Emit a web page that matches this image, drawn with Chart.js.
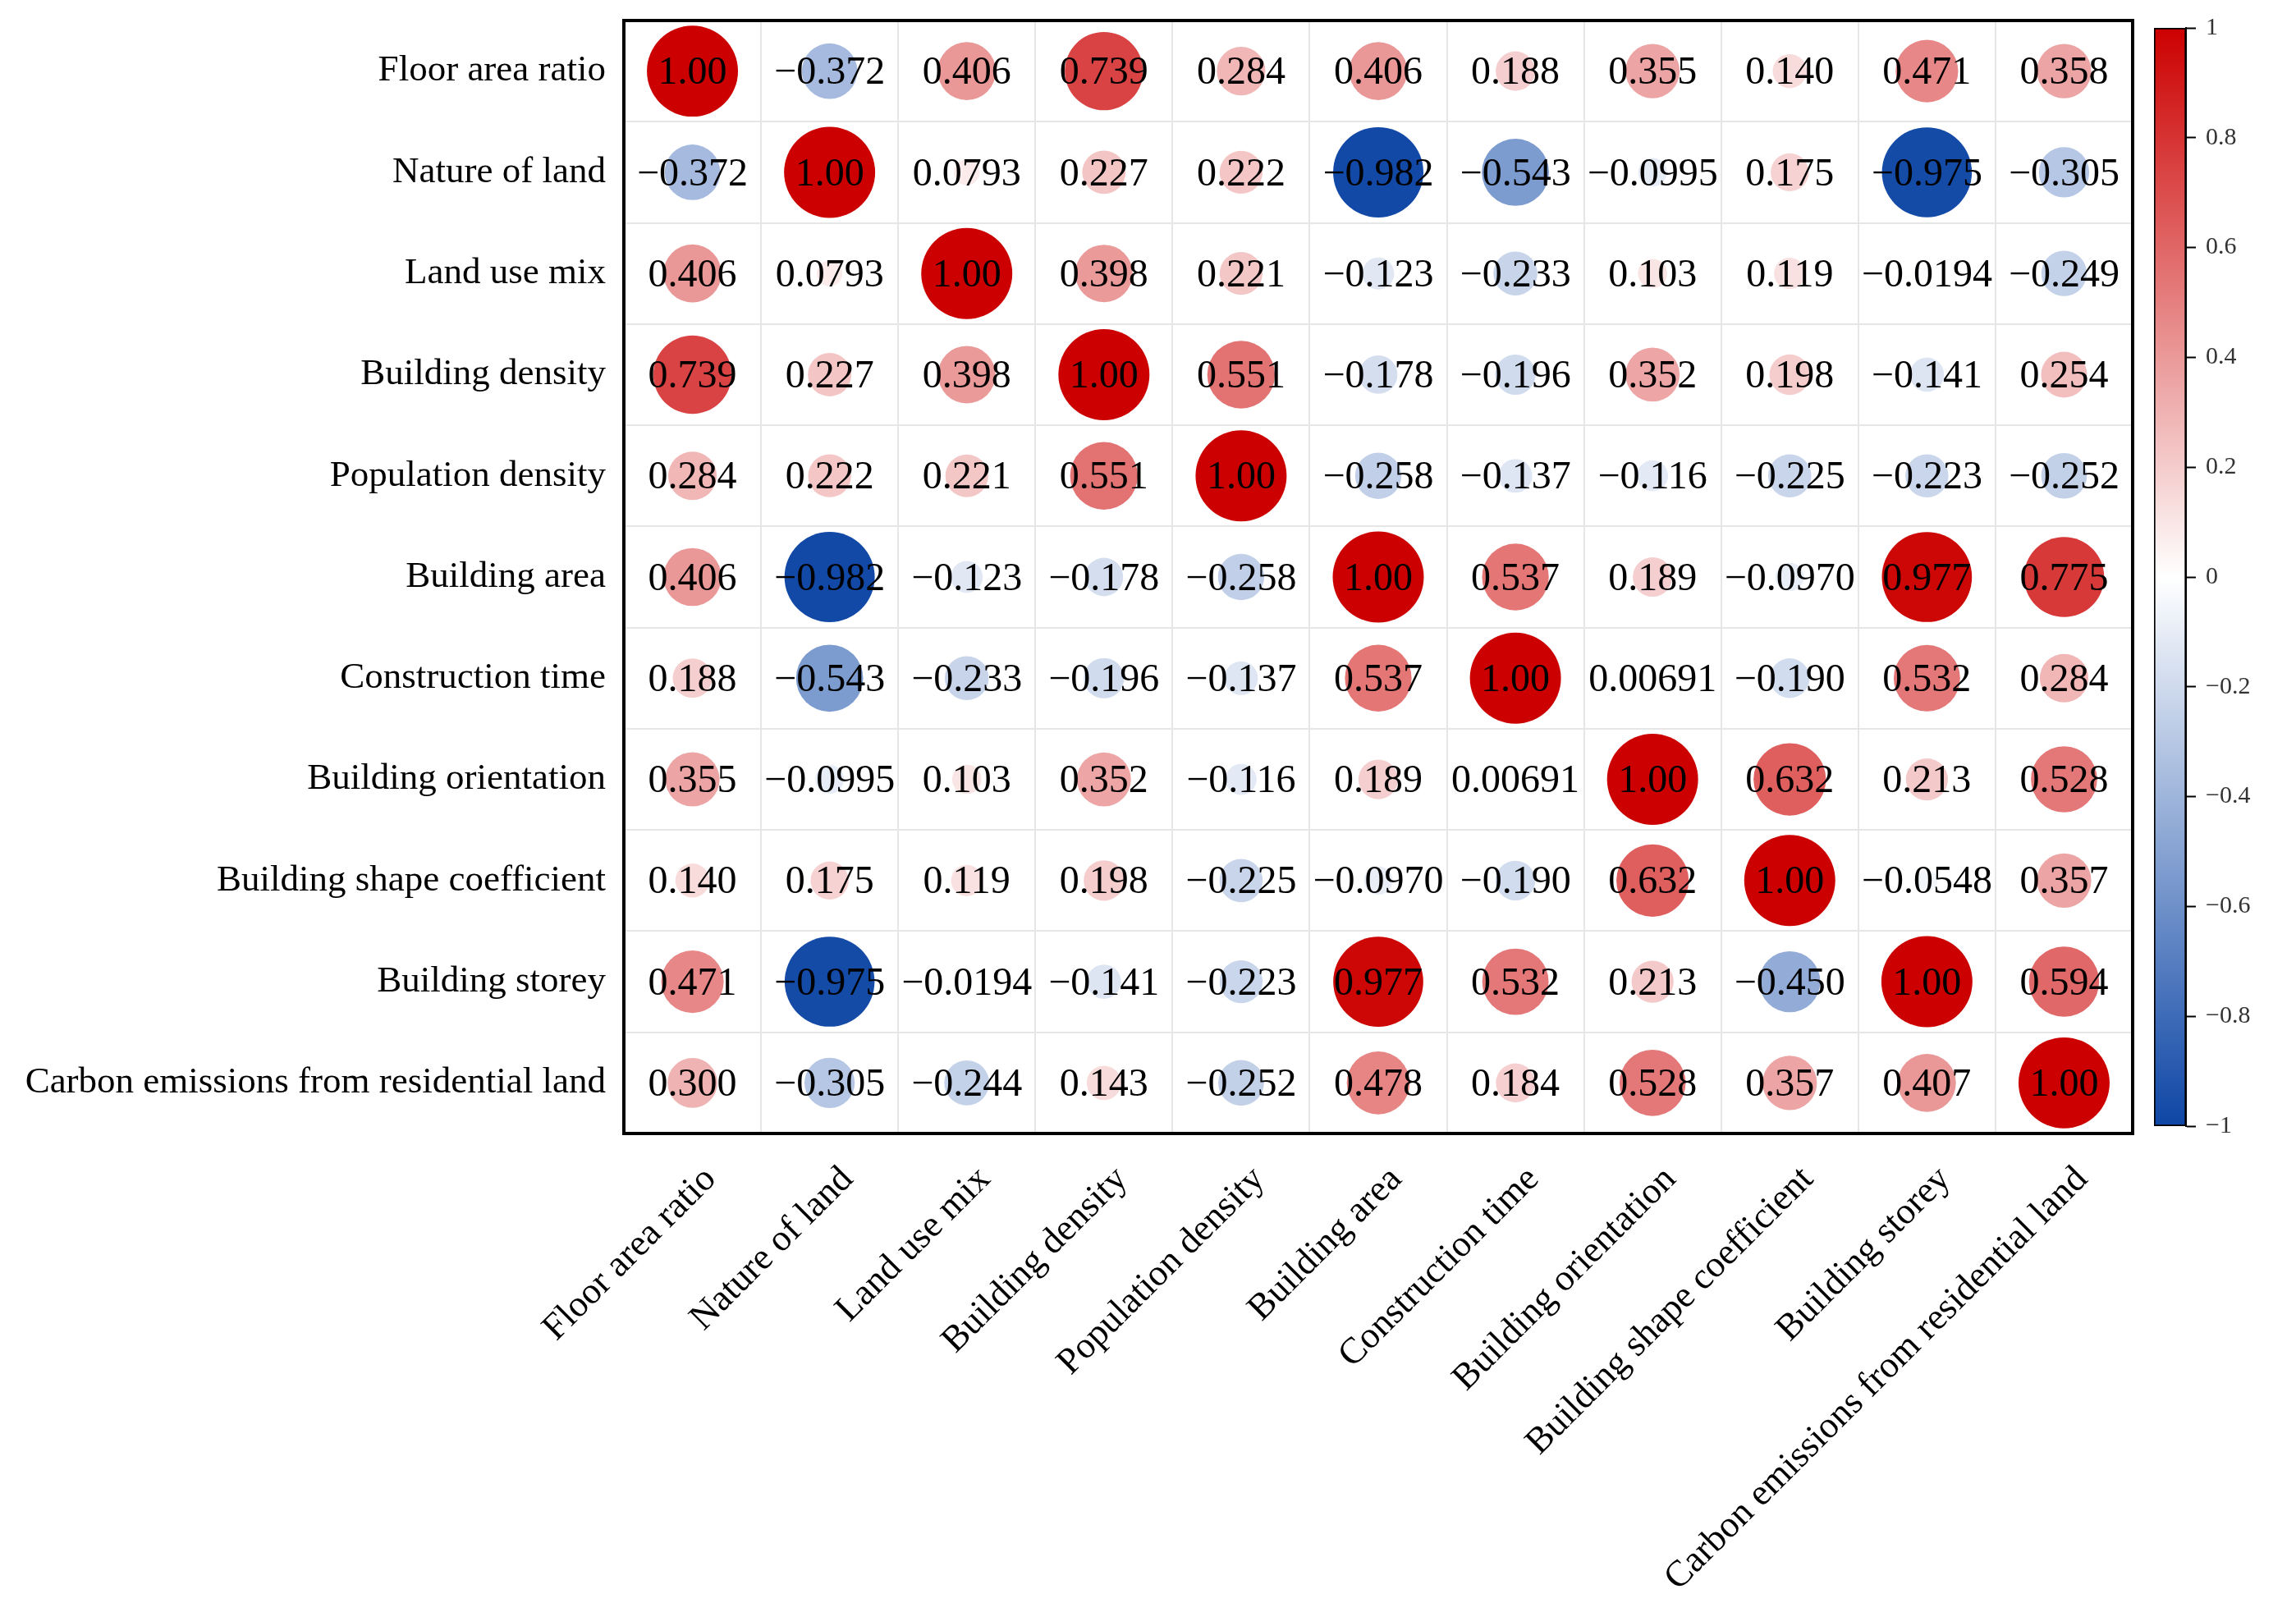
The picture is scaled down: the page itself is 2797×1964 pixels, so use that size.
<!DOCTYPE html>
<html>
<head>
<meta charset="utf-8">
<script src="https://cdn.jsdelivr.net/npm/chart.js@4.4.1/dist/chart.umd.min.js"></script>
<style>
  body { margin: 0; background: #fff; }
  #wrap { position: relative; width: 2797px; height: 1964px; }
  #corr { position: absolute; left: 0; top: 0; }
  #bar { position: absolute; left: 2600px; top: 0; }
</style>
</head>
<body>
<div id="wrap">
  <canvas id="corr" width="2797" height="1964"></canvas>
  <canvas id="bar" width="197" height="1964"></canvas>
</div>
<script>
"use strict";

// variable names (same order on both axes)
const variables = [
  "Floor area ratio",
  "Nature of land",
  "Land use mix",
  "Building density",
  "Population density",
  "Building area",
  "Construction time",
  "Building orientation",
  "Building shape coefficient",
  "Building storey",
  "Carbon emissions from residential land"
];

// one array per row of the matrix
const rowFloorAreaRatio = [1.00, -0.372, 0.406, 0.739, 0.284, 0.406, 0.188, 0.355, 0.140, 0.471, 0.358];
const rowNatureOfLand = [-0.372, 1.00, 0.0793, 0.227, 0.222, -0.982, -0.543, -0.0995, 0.175, -0.975, -0.305];
const rowLandUseMix = [0.406, 0.0793, 1.00, 0.398, 0.221, -0.123, -0.233, 0.103, 0.119, -0.0194, -0.249];
const rowBuildingDensity = [0.739, 0.227, 0.398, 1.00, 0.551, -0.178, -0.196, 0.352, 0.198, -0.141, 0.254];
const rowPopulationDensity = [0.284, 0.222, 0.221, 0.551, 1.00, -0.258, -0.137, -0.116, -0.225, -0.223, -0.252];
const rowBuildingArea = [0.406, -0.982, -0.123, -0.178, -0.258, 1.00, 0.537, 0.189, -0.0970, 0.977, 0.775];
const rowConstructionTime = [0.188, -0.543, -0.233, -0.196, -0.137, 0.537, 1.00, 0.00691, -0.190, 0.532, 0.284];
const rowBuildingOrientation = [0.355, -0.0995, 0.103, 0.352, -0.116, 0.189, 0.00691, 1.00, 0.632, 0.213, 0.528];
const rowShapeCoefficient = [0.140, 0.175, 0.119, 0.198, -0.225, -0.0970, -0.190, 0.632, 1.00, -0.0548, 0.357];
const rowBuildingStorey = [0.471, -0.975, -0.0194, -0.141, -0.223, 0.977, 0.532, 0.213, -0.450, 1.00, 0.594];
const rowCarbonEmissions = [0.300, -0.305, -0.244, 0.143, -0.252, 0.478, 0.184, 0.528, 0.357, 0.407, 1.00];

// colour bar range and ticks
const barRange = [-1, 1];
const barStep = 0.2;

const rows = [
  rowFloorAreaRatio, rowNatureOfLand, rowLandUseMix, rowBuildingDensity,
  rowPopulationDensity, rowBuildingArea, rowConstructionTime,
  rowBuildingOrientation, rowShapeCoefficient, rowBuildingStorey, rowCarbonEmissions
];

const n = variables.length;
const serif = '"Liberation Serif", "DejaVu Serif", serif';
Chart.defaults.font.family = serif;
Chart.defaults.color = "#000";

// colours: white in the middle, red for +1, blue for -1
const red = [204, 0, 0];
const blue = [14, 70, 165];

function colorFor(v) {
  const t = Math.min(1, Math.abs(v));
  const end = v >= 0 ? red : blue;
  const c = end.map(e => Math.round(255 + (e - 255) * t));
  return "rgb(" + c.join(",") + ")";
}

function formatValue(v) {
  return v.toPrecision(3).replace("-", "\u2212");
}

// build the points: x = column, y = row
let points = [];
rows.forEach((row, r) => {
  row.forEach((v, c) => {
    points.push({ x: c, y: r, v: v });
  });
});

function setIndexTicks(scale) {
  scale.ticks = variables.map((_, i) => ({ value: i }));
}

// numbers in each cell + black frame round the plot
const cellText = {
  id: "cellText",
  afterDatasetsDraw(chart) {
    const ctx = chart.ctx;
    const meta = chart.getDatasetMeta(0);
    ctx.save();
    ctx.font = "48px " + serif;
    ctx.fillStyle = "#000";
    ctx.textAlign = "center";
    ctx.textBaseline = "middle";
    meta.data.forEach((pt, i) => {
      ctx.fillText(formatValue(points[i].v), pt.x, pt.y + 3);
    });
    const a = chart.chartArea;
    ctx.lineWidth = 4;
    ctx.strokeStyle = "#000";
    ctx.strokeRect(a.left, a.top, a.right - a.left, a.bottom - a.top);
    ctx.restore();
  }
};

new Chart(document.getElementById("corr"), {
  type: "scatter",
  data: {
    datasets: [{
      data: points,
      showLine: false,
      pointBackgroundColor: c => colorFor(c.raw.v),
      pointBorderWidth: 0,
      pointRadius: c => {
        const a = c.chart.chartArea;
        if (!a) return 0;
        const cellH = (a.bottom - a.top) / n;
        return 0.45 * cellH * Math.sqrt(Math.abs(c.raw.v));
      }
    }]
  },
  options: {
    responsive: false,
    devicePixelRatio: 1,
    animation: false,
    events: [],
    layout: { padding: { left: 0, top: 25, right: 199, bottom: 0 } },
    plugins: { legend: { display: false }, tooltip: { enabled: false } },
    scales: {
      x: {
        type: "linear",
        position: "bottom",
        min: -0.5,
        max: 10.5,
        afterBuildTicks: setIndexTicks,
        afterFit: s => { s.height = 583; s.paddingLeft = 0; s.paddingRight = 0; },
        grid: { offset: true, color: "#e6e6e6", lineWidth: 2, drawTicks: false },
        border: { display: false },
        ticks: {
          autoSkip: false,
          minRotation: 45,
          maxRotation: 45,
          padding: 30,
          labelOffset: 22,
          font: { size: 45 },
          callback: v => variables[Math.round(v)]
        }
      },
      y: {
        type: "linear",
        reverse: true,
        min: -0.5,
        max: 10.5,
        afterBuildTicks: setIndexTicks,
        afterFit: s => { s.width = 760; s.paddingTop = 0; s.paddingBottom = 0; },
        grid: { offset: true, color: "#e6e6e6", lineWidth: 2, drawTicks: false },
        border: { display: false },
        ticks: {
          autoSkip: false,
          padding: 22,
          font: { size: 45 },
          callback: v => variables[Math.round(v)]
        }
      }
    }
  },
  plugins: [cellText]
});

// colour bar
function barGradient(c) {
  const a = c.chart.chartArea;
  if (!a) return null;
  const g = c.chart.ctx.createLinearGradient(0, a.bottom, 0, a.top);
  g.addColorStop(0, colorFor(-1));
  g.addColorStop(0.5, colorFor(0));
  g.addColorStop(1, colorFor(1));
  return g;
}

new Chart(document.getElementById("bar"), {
  type: "bar",
  data: {
    labels: ["r"],
    datasets: [{
      data: [barRange],
      backgroundColor: barGradient,
      borderColor: "#000",
      borderWidth: 2,
      borderSkipped: false,
      barPercentage: 1,
      categoryPercentage: 1
    }]
  },
  options: {
    responsive: false,
    devicePixelRatio: 1,
    animation: false,
    events: [],
    layout: { padding: { left: 24, top: 34, right: 0, bottom: 592 } },
    plugins: { legend: { display: false }, tooltip: { enabled: false } },
    scales: {
      x: { display: false },
      y: {
        position: "right",
        min: barRange[0],
        max: barRange[1],
        afterFit: s => { s.width = 134; s.paddingTop = 0; s.paddingBottom = 0; },
        grid: { drawOnChartArea: false, drawTicks: true, tickLength: 12, tickWidth: 2, tickColor: "#000" },
        border: { display: true, color: "#000", width: 2 },
        ticks: {
          stepSize: barStep,
          padding: 12,
          color: "#333",
          font: { size: 30 },
          callback: v => {
            const r = Math.round(v * 10) / 10;
            if (r === 0) return "0";
            return (r < 0 ? "\u2212" : "") + Math.abs(r);
          }
        }
      }
    }
  }
});
</script>
</body>
</html>
